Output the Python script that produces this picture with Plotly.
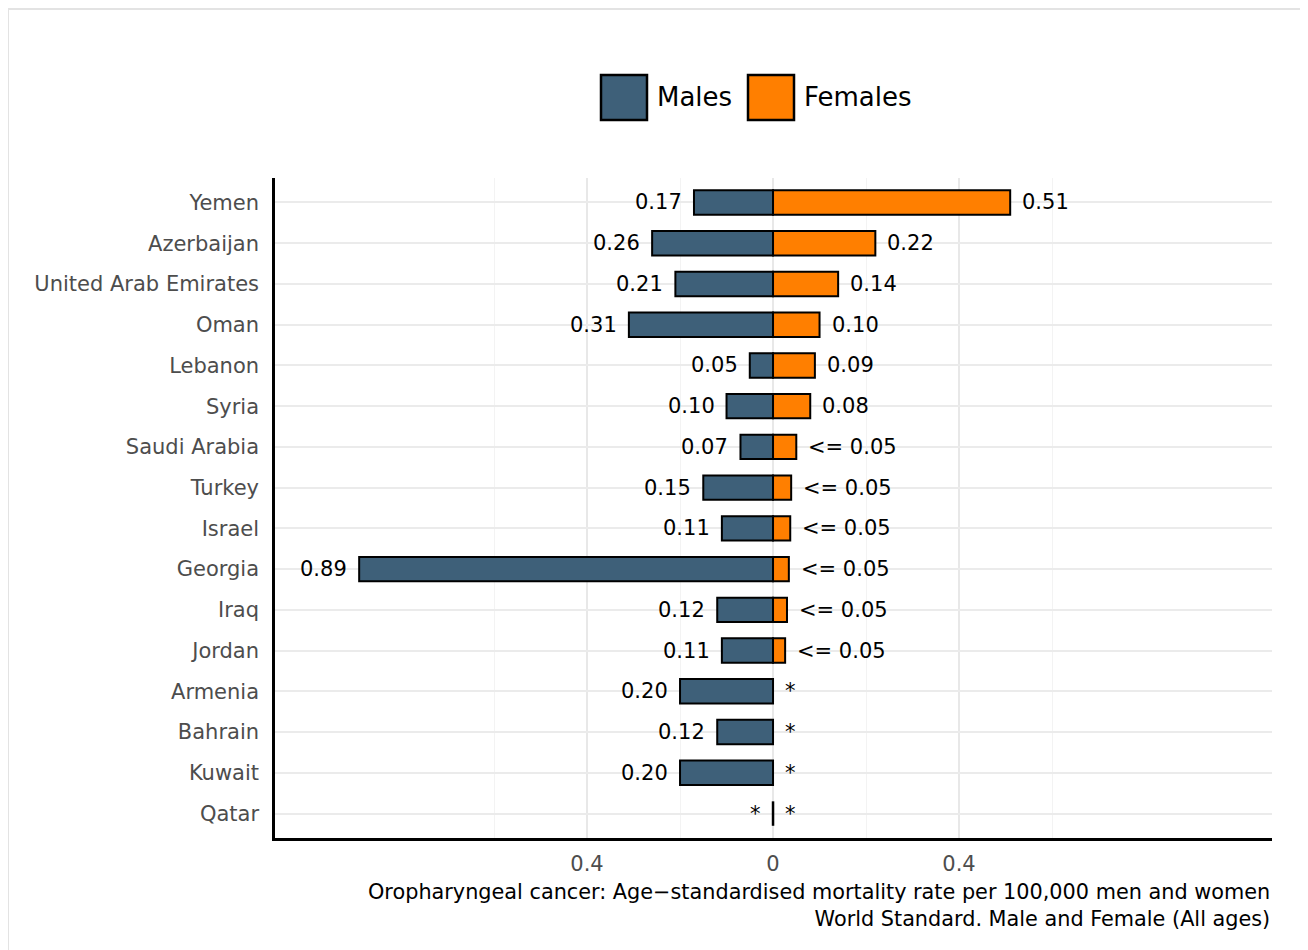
import plotly.graph_objects as go

countries = ["Yemen", "Azerbaijan", "United Arab Emirates", "Oman", "Lebanon", "Syria",
             "Saudi Arabia", "Turkey", "Israel", "Georgia", "Iraq", "Jordan",
             "Armenia", "Bahrain", "Kuwait", "Qatar"]
males = [0.17, 0.26, 0.21, 0.31, 0.05, 0.10, 0.07, 0.15, 0.11, 0.89, 0.12, 0.11,
         0.20, 0.12, 0.20, None]
females = [0.51, 0.22, 0.14, 0.10, 0.09, 0.08, 0.05, 0.039, 0.037, 0.034, 0.030, 0.026,
           None, None, None, None]
male_labels = ["0.17", "0.26", "0.21", "0.31", "0.05", "0.10", "0.07", "0.15", "0.11",
               "0.89", "0.12", "0.11", "0.20", "0.12", "0.20", "*"]
female_labels = ["0.51", "0.22", "0.14", "0.10", "0.09", "0.08", "<= 0.05", "<= 0.05",
                 "<= 0.05", "<= 0.05", "<= 0.05", "<= 0.05", "*", "*", "*", "*"]
tick_vals = [-0.4, 0, 0.4]
tick_text = ["0.4", "0", "0.4"]
caption1 = "Oropharyngeal cancer: Age\u2212standardised mortality rate per 100,000 men and women"
caption2 = "World Standard. Male and Female (All ages)"

MALE_COL = "#3E6079"
FEM_COL = "#FF7F00"
FONT = "DejaVu Sans"

W, H = 1308, 950
OFF = 8  # page offset of the figure inside the browser window
L, R, T, B = 275 - OFF, 1272 - OFF, 178 - OFF, 838 - OFF


def px(x):
    return (x - OFF - L) / (R - L)


def py(y):
    return (B - (y - OFF)) / (B - T)


fig = go.Figure()
fig.add_trace(go.Bar(
    y=countries, x=[-v if v is not None else None for v in males], orientation="h",
    marker=dict(color=MALE_COL, line=dict(color="black", width=2)),
    width=0.6, name="Males", showlegend=False, hoverinfo="skip"))
fig.add_trace(go.Bar(
    y=countries, x=females, orientation="h",
    marker=dict(color=FEM_COL, line=dict(color="black", width=2)),
    width=0.6, name="Females", showlegend=False, hoverinfo="skip"))

annotations = []
for c, m, ml, f, fl in zip(countries, males, male_labels, females, female_labels):
    annotations.append(dict(x=-(m or 0), y=c, xref="x", yref="y", text=ml, showarrow=False,
                            xanchor="right", xshift=-10, font=dict(family=FONT, size=21, color="black")))
    annotations.append(dict(x=(f or 0), y=c, xref="x", yref="y", text=fl, showarrow=False,
                            xanchor="left", xshift=10, font=dict(family=FONT, size=21, color="black")))

shapes = []
# zero-length bar outline for countries with no data on either side
for c, m, f in zip(countries, males, females):
    if m is None and f is None:
        idx = countries.index(c)
        shapes.append(dict(type="line", xref="x", yref="y", x0=0, x1=0,
                           y0=idx - 0.3, y1=idx + 0.3, line=dict(color="black", width=2.5)))

# outer light border
shapes.append(dict(type="rect", xref="paper", yref="paper", x0=px(8), x1=px(1340),
                   y0=py(9), y1=py(990), line=dict(color="#e3e3e3", width=2), fillcolor="rgba(0,0,0,0)",
                   layer="below"))

# legend
shapes.append(dict(type="rect", xref="paper", yref="paper", x0=px(601), x1=px(647),
                   y0=py(75), y1=py(120), fillcolor=MALE_COL, line=dict(color="black", width=2.5)))
shapes.append(dict(type="rect", xref="paper", yref="paper", x0=px(748), x1=px(794),
                   y0=py(75), y1=py(120), fillcolor=FEM_COL, line=dict(color="black", width=2.5)))
annotations.append(dict(x=px(655), y=py(97), xref="paper", yref="paper", text="Males", showarrow=False,
                        xanchor="left", yanchor="middle", font=dict(family=FONT, size=26, color="black")))
annotations.append(dict(x=px(802), y=py(97), xref="paper", yref="paper", text="Females", showarrow=False,
                        xanchor="left", yanchor="middle", font=dict(family=FONT, size=26, color="black")))

# caption (two right-aligned lines in one block)
annotations.append(dict(x=1, y=py(905), xref="paper", yref="paper", text=caption1 + "<br>" + caption2,
                        showarrow=False, xanchor="right", yanchor="middle", align="right",
                        font=dict(family=FONT, size=20.8, color="black")))

fig.update_layout(
    width=W, height=H,
    margin=dict(l=L, r=W - R, t=T, b=H - B, pad=0),
    paper_bgcolor="white", plot_bgcolor="white",
    barmode="relative",
    showlegend=False,
    annotations=annotations, shapes=shapes,
    font=dict(family=FONT),
)
fig.update_xaxes(
    range=[-1.071, 1.073], tickvals=tick_vals, ticktext=tick_text,
    showgrid=True, gridcolor="#e8e8e8", gridwidth=2, zeroline=False,
    minor=dict(tickvals=[-0.6, -0.2, 0.2, 0.6], showgrid=True, gridcolor="#f3f3f3", gridwidth=1, ticks=""),
    showline=True, linecolor="black", linewidth=2.5,
    ticks="outside", ticklen=5, tickcolor="rgba(0,0,0,0)",
    tickfont=dict(family=FONT, size=21, color="#4d4d4d"),
)
fig.update_yaxes(
    categoryorder="array", categoryarray=countries,
    range=[15.6, -0.6],
    showgrid=True, gridcolor="#ebebeb", gridwidth=2, zeroline=False,
    showline=True, linecolor="black", linewidth=2.5,
    ticks="outside", ticklen=9, tickcolor="rgba(0,0,0,0)",
    tickfont=dict(family=FONT, size=21, color="#4d4d4d"),
)

fig.write_html("out.html")
